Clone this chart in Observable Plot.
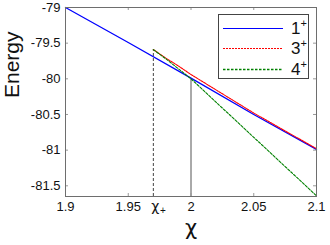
<!DOCTYPE html>
<html><head><meta charset="utf-8">
<script src="https://cdn.jsdelivr.net/npm/d3@7"></script>
<script src="https://cdn.jsdelivr.net/npm/@observablehq/plot@0.6"></script>
<style>
body{margin:0;background:#fff;}
#wrap{position:relative;width:330px;height:245px;font-family:"Liberation Sans",Arial,sans-serif;color:#111;}
#legend{position:absolute;left:218px;top:14px;}
</style></head><body><div id="wrap"></div>
<script>
// data
const chi1 = [1.9, 1.95, 2.0, 2.05, 2.1];
const e1   = [-79.0, -79.49, -79.99, -80.5, -80.99];
const chi3 = [1.97, 1.98, 1.99, 2.0, 2.05, 2.1];
const e3   = [-79.59, -79.71, -79.82, -79.94, -80.48, -80.98];
const chi4 = [1.97, 1.98, 1.99, 2.0, 2.05, 2.1];
const e4   = [-79.59, -79.72, -79.86, -80.0, -80.82, -81.64];
const seriesNames = ["1", "3", "4"];
const seriesColors = ["#0000ff", "#ff0000", "#008000"];
const seriesDash = [null, "2,1", "2.5,1.5"];
const xTicks = [1.9, 1.95, 2, 2.05, 2.1];
const yTicks = [-79, -79.5, -80, -80.5, -81, -81.5];
const chiPlus = 1.97, chiPlusE = -79.59;
const chiZero = 2.0, chiZeroE = -80.0;
const xDomain = [1.9, 2.1], yDomain = [-81.65, -79];

const W = 330, H = 245, mL = 65, mR = 14, mT = 7, mB = 49;
const pw = W - mL - mR, ph = H - mT - mB;
const toRows = (xs, ys) => xs.map((x, i) => ({x, y: ys[i]}));
const series = [toRows(chi1, e1), toRows(chi3, e3), toRows(chi4, e4)];
const boxColor = "#6e6e6e";
const greekFont = "DejaVu Sans, sans-serif";

const marks = [
  Plot.ruleX([chiPlus], {x: d => d, y1: yDomain[0], y2: chiPlusE, stroke: "#444", strokeDasharray: "3,2"}),
  Plot.ruleX([chiZero], {x: d => d, y1: yDomain[0], y2: chiZeroE, stroke: "#555"}),
  Plot.tickX(xTicks, {x: d => d, insetTop: ph - 3, stroke: "#999"}),
  Plot.tickX(xTicks, {x: d => d, insetBottom: ph - 3, stroke: "#999"}),
  Plot.tickY(yTicks, {y: d => d, insetRight: pw - 3, stroke: "#999"}),
  Plot.tickY(yTicks, {y: d => d, insetLeft: pw - 3, stroke: "#999"}),
  Plot.axisX({ticks: xTicks, tickSize: 0, tickPadding: 5, tickFormat: d => String(d), fontSize: 13, label: null}),
  Plot.axisY({ticks: yTicks, tickSize: 0, tickPadding: 5, tickFormat: d => String(d), fontSize: 13, label: null}),
  Plot.text([chiPlus], {x: d => d, text: () => "χ", frameAnchor: "bottom", lineAnchor: "top", dy: 5, dx: 2, fontSize: 14, fontFamily: greekFont}),
  Plot.text([chiPlus], {x: d => d, text: () => "+", frameAnchor: "bottom", lineAnchor: "top", dy: 10, dx: 9.5, fontSize: 10}),
  Plot.text(["χ"], {text: d => d, frameAnchor: "bottom", lineAnchor: "bottom", dy: 38, fontSize: 21, fontFamily: greekFont}),
  Plot.text(["Energy"], {text: d => d, frameAnchor: "left", lineAnchor: "bottom", rotate: -90, dx: -47, dy: -4, fontSize: 21}),
  ...series.map((s, i) => Plot.line(s, {x: "x", y: "y", stroke: seriesColors[i], strokeWidth: i === 0 ? 1.3 : 1.1, strokeDasharray: seriesDash[i]})),
  Plot.frame({stroke: boxColor})
];

const chart = Plot.plot({
  width: W, height: H,
  marginLeft: mL, marginRight: mR, marginTop: mT, marginBottom: mB,
  x: {domain: xDomain},
  y: {domain: yDomain},
  style: {fontFamily: "Liberation Sans, Arial, sans-serif", color: "#111", background: "#fff"},
  marks
});
const wrap = document.getElementById("wrap");
wrap.appendChild(chart);

// legend inside the axes (top-right)
const lw = 91, lh = 65;
const leg = d3.select(wrap).append("svg").attr("id", "legend").attr("width", lw).attr("height", lh);
leg.append("rect").attr("x", 0.5).attr("y", 0.5).attr("width", lw - 1).attr("height", lh - 1)
  .attr("fill", "#fff").attr("stroke", "#444");
const rowY = [14.5, 34.5, 55.5];
seriesNames.forEach((n, i) => {
  leg.append("line").attr("x1", 5).attr("x2", 65).attr("y1", rowY[i]).attr("y2", rowY[i])
    .attr("stroke", seriesColors[i]).attr("stroke-width", i === 2 ? 1.6 : 1.2)
    .attr("stroke-dasharray", seriesDash[i]);
  const t = leg.append("text").attr("x", 73).attr("y", rowY[i] + 5.5)
    .attr("font-family", "Liberation Sans, Arial, sans-serif").attr("font-size", 17).attr("fill", "#111");
  t.append("tspan").text(n);
  t.append("tspan").attr("dy", -7).attr("font-size", 11).text("+");
});
</script></body></html>
